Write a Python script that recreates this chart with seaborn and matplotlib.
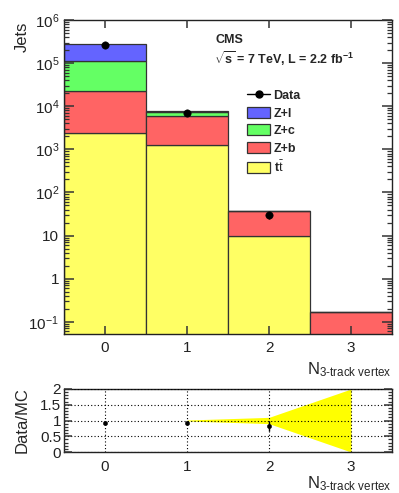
import numpy as np
import pandas as pd
import matplotlib
matplotlib.use("Agg")
import matplotlib.pyplot as plt
from matplotlib.patches import Patch
from matplotlib.lines import Line2D
from matplotlib.ticker import FixedLocator, FixedFormatter, LogLocator, NullFormatter, MultipleLocator
import seaborn as sns

# ---- values ----
n_vtx = [0, 1, 2, 3]
processes = ["Z+l", "Z+c", "Z+b", "tt"]
proc_colors = {"Z+l": "#6464ff", "Z+c": "#64ff64", "Z+b": "#ff6464", "tt": "#ffff64"}
yield_zl = [1.75e5, 400.0, 0.0, 0.0]
yield_zc = [8.8e4, 1.3e3, 0.0, 0.0]
yield_zb = [1.96e4, 4.65e3, 27.0, 0.17]
yield_tt = [2.4e3, 1.25e3, 9.6, 0.0]
data_counts = [2.65e5, 6.9e3, 30.0, 0.0]
mc_band_x = [1, 2, 3]
mc_band_err = [0.015, 0.1, 1.0]

sns.set_theme(style="ticks")
plt.rcParams["font.family"] = ["Liberation Sans", "DejaVu Sans"]
plt.rcParams["mathtext.fontset"] = "custom"
plt.rcParams["mathtext.rm"] = "Liberation Sans"
plt.rcParams["mathtext.bf"] = "Liberation Sans:bold"
plt.rcParams["mathtext.it"] = "Liberation Sans:italic"

df = pd.DataFrame({
    "nvtx": n_vtx * 4,
    "process": sum([[p] * 4 for p in processes], []),
    "jets": yield_zl + yield_zc + yield_zb + yield_tt,
})

W, H = 399, 493
fig = plt.figure(figsize=(W / 100, H / 100), dpi=100)
ax = fig.add_axes([64 / W, 1 - 334 / H, 328 / W, 314 / H])
rax = fig.add_axes([64 / W, 1 - 452 / H, 328 / W, 63 / H])

sns.histplot(data=df, x="nvtx", weights="jets", hue="process", hue_order=processes,
             multiple="stack", discrete=True, shrink=1, palette=proc_colors,
             edgecolor="#333333", linewidth=0.9, alpha=1, legend=False, ax=ax)
ax.set_yscale("log")

data_df = pd.DataFrame({"nvtx": n_vtx, "jets": data_counts})
data_df = data_df[data_df["jets"] > 0]
sns.scatterplot(data=data_df, x="nvtx", y="jets", color="black", s=28,
                edgecolor="black", zorder=5, ax=ax)
ax.errorbar(data_df["nvtx"], data_df["jets"], yerr=np.sqrt(data_df["jets"]),
            fmt="none", ecolor="black", lw=1, zorder=5)
ax.set_xlabel("")
ax.set_ylabel("")

fig.text(22 / W, 1 - 22 / H, "Jets", rotation=90, fontsize=12, ha="center", va="top")
fig.text(392 / W, 1 - 370 / H, r"N$_{\mathrm{3\text{-}track\ vertex}}$", fontsize=12,
         ha="right", va="center")
ax.text(0.463, 0.935, "CMS", transform=ax.transAxes, fontsize=9, fontweight="bold",
        ha="left", va="center")
ax.text(0.457, 0.877, r"$\mathbf{\sqrt{s}}$ = 7 TeV, L = 2.2 fb$^{\mathbf{-1}}$",
        transform=ax.transAxes, fontsize=9, fontweight="bold", ha="left", va="center")

handles = [Line2D([], [], color="black", marker="o", markersize=5, lw=1)]
handles += [Patch(facecolor=proc_colors[p], edgecolor="#333333", lw=0.9) for p in processes]
leg_labels = ["Data", "Z+l", "Z+c", "Z+b", r"t$\bar{\mathrm{t}}$"]
leg = ax.legend(handles, leg_labels, loc="upper left", bbox_to_anchor=(0.54, 0.80),
                frameon=False, prop={"size": 9, "weight": "bold"}, handlelength=1.8,
                handleheight=1.0, labelspacing=0.38, handletextpad=0.3, borderpad=0)

# ---- ratio panel ----
mc_total = np.array(yield_zl) + np.array(yield_zc) + np.array(yield_zb) + np.array(yield_tt)
data_arr = np.array(data_counts)
mask = (data_arr > 0) & (mc_total > 0)
ratio_df = pd.DataFrame({"nvtx": np.array(n_vtx)[mask],
                         "ratio": data_arr[mask] / mc_total[mask],
                         "err": np.sqrt(data_arr[mask]) / mc_total[mask]})
band = np.array(mc_band_err)
rax.fill_between(mc_band_x, 1 - band, 1 + band, color="#ffff00", lw=0, zorder=1)
sns.scatterplot(data=ratio_df, x="nvtx", y="ratio", color="black", s=10,
                edgecolor="black", zorder=5, ax=rax)
rax.errorbar(ratio_df["nvtx"], ratio_df["ratio"], yerr=ratio_df["err"],
             fmt="none", ecolor="black", lw=1, zorder=5)
rax.set_xlabel("")
rax.set_ylabel("")

fig.text(22 / W, 1 - 420 / H, "Data/MC", rotation=90, fontsize=12, ha="center", va="center")
fig.text(392 / W, 1 - 484 / H, r"N$_{\mathrm{3\text{-}track\ vertex}}$", fontsize=12,
         ha="right", va="center")

# ---- axis styling, done last ----
majors = [1e-1, 1, 10, 1e2, 1e3, 1e4, 1e5, 1e6]
labels = [r"$10^{-1}$", "1", "10", r"$10^{2}$", r"$10^{3}$", r"$10^{4}$", r"$10^{5}$", r"$10^{6}$"]
ax.set_xlim(-0.5, 3.5)
ax.set_ylim(0.052, 1e6)
ax.yaxis.set_major_locator(FixedLocator(majors))
ax.yaxis.set_major_formatter(FixedFormatter(labels))
ax.yaxis.set_minor_locator(LogLocator(base=10, subs=np.arange(2, 10), numticks=20))
ax.yaxis.set_minor_formatter(NullFormatter())
ax.xaxis.set_major_locator(FixedLocator(n_vtx))
ax.tick_params(axis="both", which="both", direction="in", top=True, right=True,
               labelsize=11, color="#333333", labelcolor="#222222")
ax.tick_params(axis="y", which="major", length=7, width=1.1)
ax.tick_params(axis="y", which="minor", length=3.5, width=0.9)
ax.tick_params(axis="x", which="major", length=6, width=1.1, pad=5)
for s in ax.spines.values():
    s.set_color("#222222")
    s.set_linewidth(1)

rax.set_xlim(-0.5, 3.5)
rax.set_ylim(0, 2)
rax.xaxis.set_major_locator(FixedLocator(n_vtx))
rax.yaxis.set_major_locator(FixedLocator([0, 0.5, 1, 1.5, 2]))
rax.yaxis.set_major_formatter(FixedFormatter(["0", "0.5", "1", "1.5", "2"]))
rax.yaxis.set_minor_locator(MultipleLocator(0.1))
rax.grid(True, which="major", color="black", linestyle=(0, (1, 2)), lw=0.8)
rax.tick_params(axis="both", which="both", direction="in", right=True, labelsize=11,
                color="#333333", labelcolor="#222222")
rax.tick_params(axis="y", which="major", length=6, width=1.1, pad=2)
rax.tick_params(axis="y", which="minor", length=3, width=0.9)
rax.tick_params(axis="x", which="major", length=0, pad=6)
for s in rax.spines.values():
    s.set_color("#222222")
    s.set_linewidth(1)

for a in (ax, rax):
    a.set_axisbelow(False)
    a.xaxis.set_zorder(10)
    a.yaxis.set_zorder(10)

fig.savefig("out.png", dpi=100)
